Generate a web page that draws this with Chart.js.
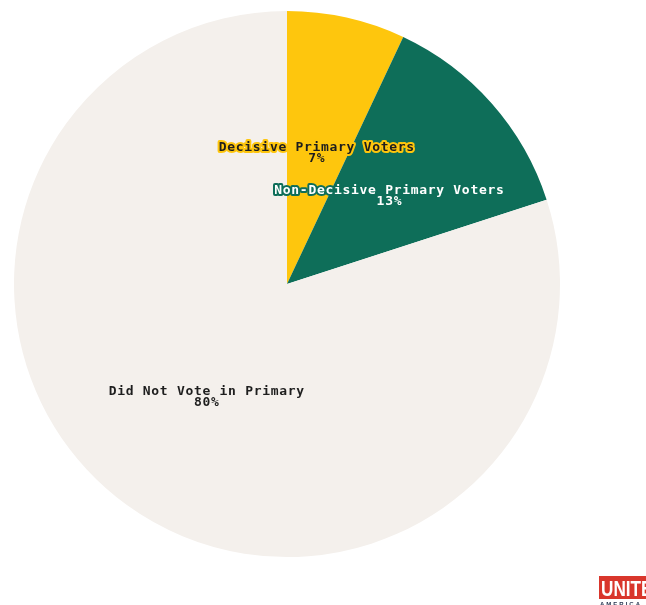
<!DOCTYPE html>
<html>
<head>
<meta charset="utf-8">
<script src="https://cdn.jsdelivr.net/npm/chart.js@4"></script>
<style>
  html, body { margin: 0; padding: 0; background: #ffffff; }
  #wrap { width: 646px; height: 605px; }
</style>
</head>
<body>
<div id="wrap"><canvas id="pie" width="646" height="605"></canvas></div>
<script>
const groups = ['Decisive Primary Voters', 'Non-Decisive Primary Voters', 'Did Not Vote in Primary'];
const shares = [7, 13, 80];
const sliceColors = ['#fec60d', '#0e6e59', '#f4f0ec'];
const labelColors = ['#1e1e1e', '#ffffff', '#1e1e1e'];

// two-line label at half the radius, with a halo in the slice colour
const sliceLabels = {
	id: 'sliceLabels',
	afterDatasetsDraw(chart) {
		const ctx = chart.ctx;
		const meta = chart.getDatasetMeta(0);
		ctx.save();
		ctx.font = 'bold 13px "DejaVu Sans Mono", monospace';
		ctx.letterSpacing = '0.7px';
		ctx.textAlign = 'center';
		ctx.textBaseline = 'middle';
		ctx.lineJoin = 'round';
		meta.data.forEach((arc, i) => {
			const mid = (arc.startAngle + arc.endAngle) / 2;
			const r = arc.outerRadius / 2;
			const x = arc.x + Math.cos(mid) * r;
			const y = arc.y + Math.sin(mid) * r;
			const lines = [groups[i], shares[i] + '%'];
			lines.forEach((t, k) => {
				const ly = y - 3 + k * 11;
				ctx.strokeStyle = sliceColors[i];
				ctx.lineWidth = 4;
				ctx.strokeText(t, x, ly);
				ctx.fillStyle = labelColors[i];
				ctx.fillText(t, x, ly);
			});
		});
		ctx.restore();
	}
};

// brand mark in the bottom right corner
const brandMark = {
	id: 'brandMark',
	afterDraw(chart) {
		const ctx = chart.ctx;
		ctx.save();
		ctx.fillStyle = '#d9362c';
		ctx.fillRect(599, 576, 60, 23);
		ctx.save();
		ctx.translate(601, 596);
		ctx.scale(0.78, 1);
		ctx.fillStyle = '#ffffff';
		ctx.font = 'bold 22px "Liberation Sans", sans-serif';
		ctx.textBaseline = 'alphabetic';
		ctx.fillText('UNITE', 0, 0);
		ctx.restore();
		ctx.fillStyle = '#2a3550';
		ctx.font = 'bold 6px "Liberation Sans", sans-serif';
		ctx.letterSpacing = '2px';
		ctx.fillText('AMERICA', 600, 606);
		ctx.restore();
	}
};

new Chart(document.getElementById('pie'), {
	type: 'pie',
	data: {
		labels: groups,
		datasets: [{
			data: shares,
			backgroundColor: sliceColors,
			borderWidth: 0,
			hoverOffset: 0
		}]
	},
	options: {
		responsive: false,
		animation: false,
		layout: { padding: { left: 14, right: 86, top: 11, bottom: 48 } },
		plugins: {
			legend: { display: false },
			tooltip: { enabled: false }
		}
	},
	plugins: [sliceLabels, brandMark]
});
</script>
</body>
</html>
